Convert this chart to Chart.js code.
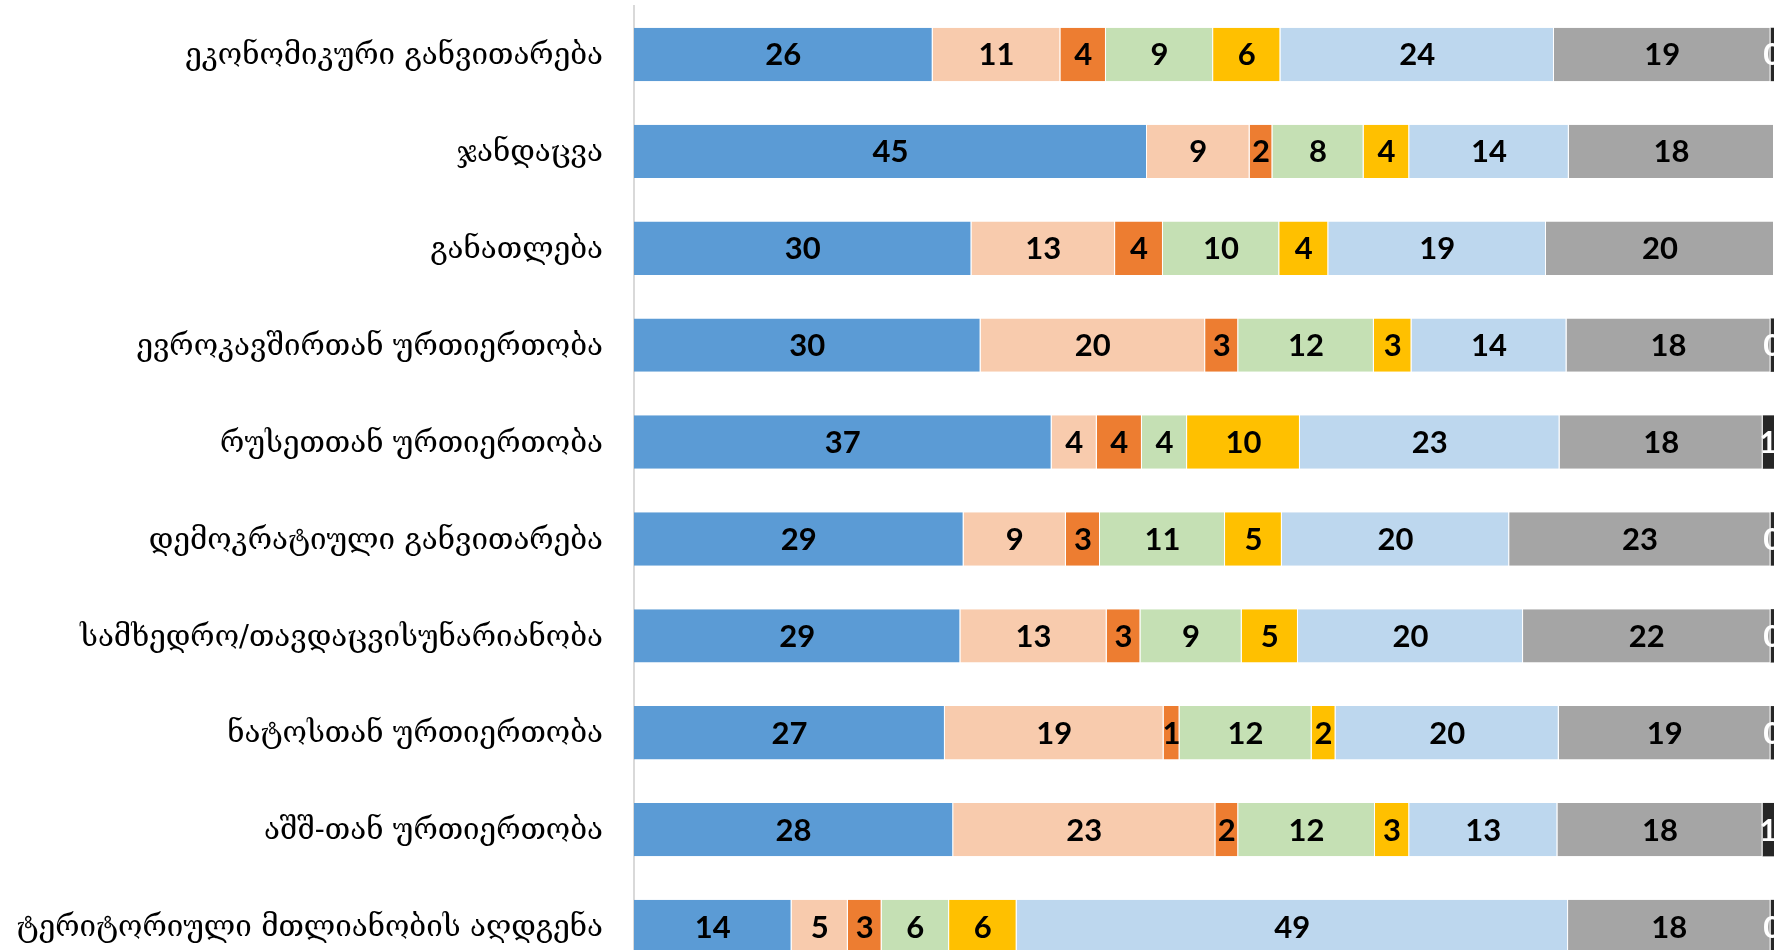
<!DOCTYPE html>
<html>
<head>
<meta charset="utf-8">
<script src="https://cdn.jsdelivr.net/npm/chart.js@4/dist/chart.umd.min.js"></script>
<style>
  html, body { margin: 0; padding: 0; background: #fff; overflow: hidden; }
  #wrap { width: 1791px; height: 975px; }
</style>
</head>
<body>
<div id="wrap"><canvas id="chart"></canvas></div>
<script>
const categories = [
  'ეკონომიკური განვითარება',
  'ჯანდაცვა',
  'განათლება',
  'ევროკავშირთან ურთიერთობა',
  'რუსეთთან ურთიერთობა',
  'დემოკრატიული განვითარება',
  'სამხედრო/თავდაცვისუნარიანობა',
  'ნატოსთან ურთიერთობა',
  'აშშ-თან ურთიერთობა',
  'ტერიტორიული მთლიანობის აღდგენა'
];

// one array per answer group, same order as categories (labels show rounded values)
const series1 = [26.2, 45, 29.6, 30.4, 37, 29, 29, 27.3, 28, 14];
const series2 = [11.2, 9, 12.6, 19.7, 4, 9, 13, 19.2, 23, 5];
const series3 = [4.0, 2, 4.2, 2.9, 4, 3, 3, 1.4, 2, 3];
const series4 = [9.4, 8, 10.2, 11.9, 4, 11, 9, 11.6, 12, 6];
const series5 = [5.9, 4, 4.3, 3.3, 10, 5, 5, 2.1, 3, 6];
const series6 = [24.0, 14, 19.1, 13.6, 23, 20, 20, 19.6, 13, 49];
const series7 = [19.0, 18, 20.0, 17.9, 18, 23, 22, 18.6, 18, 18];
const series8 = [0.3, 0, 0, 0.3, 1, 0.3, 0.3, 0.3, 1, 0.3];

const seriesList = [series1, series2, series3, series4, series5, series6, series7, series8];
const colors = ['#5B9BD5', '#F8CBAD', '#ED7D31', '#C5E0B4', '#FFC000', '#BDD7EE', '#A5A5A5', '#262626'];
const labelColors = ['#000', '#000', '#000', '#000', '#000', '#000', '#000', '#fff'];

const rowTotals = categories.map((_, i) => seriesList.reduce((sum, s) => sum + s[i], 0));

const datasets = seriesList.map((values, k) => ({
  label: 'series' + (k + 1),
  raw: values,
  data: values.map((v, i) => v / rowTotals[i] * 100),
  backgroundColor: colors[k],
  borderColor: '#fff',
  borderWidth: k === 7 ? 0 : { top: 0, bottom: 0, left: 0, right: 1 },
  borderSkipped: false,
  barPercentage: 0.551,
  categoryPercentage: 1
}));

const valueLabels = {
  id: 'valueLabels',
  afterDatasetsDraw(chart) {
    const ctx = chart.ctx;
    ctx.save();
    ctx.font = 'bold 31px Lato';
    ctx.textAlign = 'center';
    ctx.textBaseline = 'middle';
    chart.data.datasets.forEach((ds, k) => {
      const meta = chart.getDatasetMeta(k);
      meta.data.forEach((bar, i) => {
        const v = ds.raw[i];
        if (v === 0) return;
        const x = (bar.base + bar.x) / 2;
        ctx.fillStyle = labelColors[k];
        ctx.fillText(Math.round(v), x, bar.y + 1);
      });
    });
    ctx.restore();
  }
};

new Chart(document.getElementById('chart'), {
  type: 'bar',
  data: { labels: categories, datasets },
  plugins: [valueLabels],
  options: {
    indexAxis: 'y',
    responsive: true,
    maintainAspectRatio: false,
    animation: false,
    layout: { padding: { top: 6, right: 17, bottom: 0, left: 0 } },
    plugins: { legend: { display: false }, tooltip: { enabled: false } },
    scales: {
      x: { stacked: true, min: 0, max: 100, display: false },
      y: {
        stacked: true,
        afterFit: scale => {
          scale.width = 634;
          scale.paddingTop = 0;
          scale.paddingBottom = 0;
        },
        grid: { display: true, drawOnChartArea: false, drawTicks: false },
        border: { display: true, color: '#d9d9d9', width: 2 },
        ticks: {
          padding: 31,
          labelOffset: 2,
          color: '#000',
          font: { family: 'DejaVu Serif', size: 29.5 }
        }
      }
    }
  }
});
</script>
</body>
</html>
